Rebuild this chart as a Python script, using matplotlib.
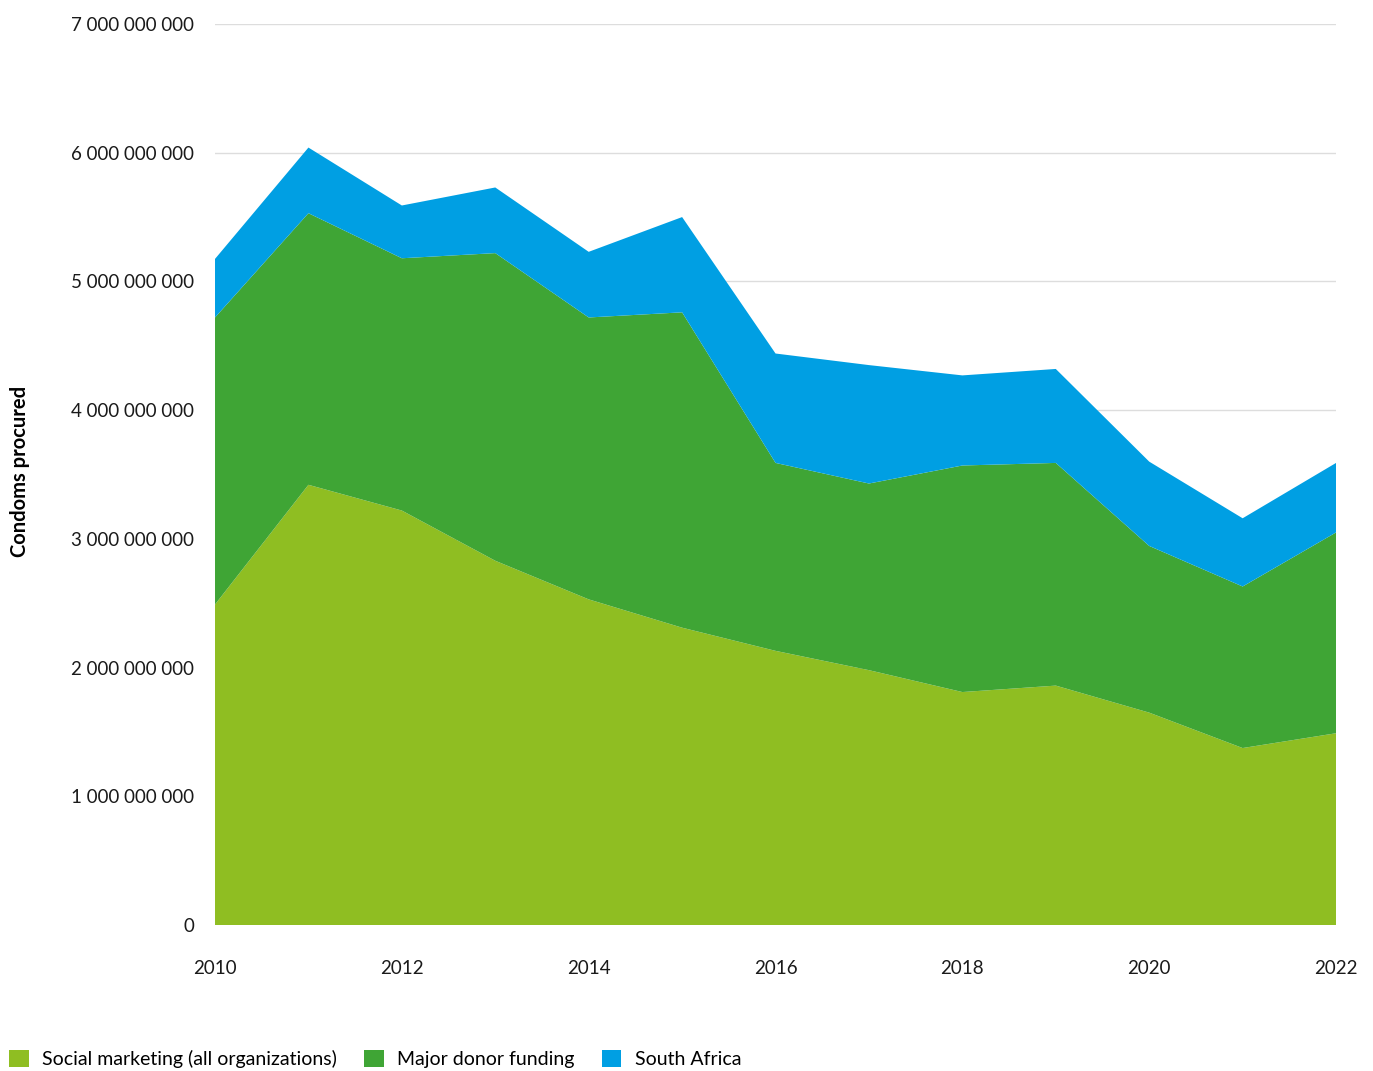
import numpy as np
import matplotlib.pyplot as plt
from matplotlib.patches import Patch
from matplotlib.ticker import FuncFormatter

plt.rcParams['font.family'] = ['Lato', 'DejaVu Sans']

# Data
years = [2010, 2011, 2012, 2013, 2014, 2015, 2016, 2017, 2018, 2019, 2020, 2021, 2022]
social_marketing = [2.49e9, 3.42e9, 3.22e9, 2.83e9, 2.53e9, 2.31e9, 2.13e9, 1.98e9, 1.81e9, 1.86e9, 1.65e9, 1.375e9, 1.49e9]
major_donor = [2.23e9, 2.11e9, 1.96e9, 2.39e9, 2.19e9, 2.45e9, 1.46e9, 1.45e9, 1.76e9, 1.73e9, 1.295e9, 1.255e9, 1.56e9]
south_africa = [0.455e9, 0.51e9, 0.41e9, 0.51e9, 0.51e9, 0.74e9, 0.85e9, 0.92e9, 0.70e9, 0.73e9, 0.655e9, 0.53e9, 0.54e9]

labels = ['Social marketing (all organizations)', 'Major donor funding', 'South Africa']
colors = ['#8fbe22', '#3fa535', '#009fe3']

fig = plt.figure(figsize=(13.73, 10.71), dpi=100)
ax = fig.add_axes([0.1566, 0.1363, 0.8165, 0.8413])

ax.stackplot(years, social_marketing, major_donor, south_africa, colors=colors, linewidth=0)

ax.set_xlim(2010, 2022)
ax.set_ylim(0, 7e9)
ax.set_xticks([2010, 2012, 2014, 2016, 2018, 2020, 2022])
ax.set_yticks(np.arange(0, 7.01e9, 1e9))
ax.yaxis.set_major_formatter(FuncFormatter(lambda v, p: f'{int(round(v)):,}'.replace(',', ' ')))

ax.grid(axis='y', color='#dddddd', linewidth=1)
ax.set_axisbelow(True)
for s in ax.spines.values():
    s.set_visible(False)
ax.tick_params(length=0, labelsize=13.5, colors='#1a1a1a')
ax.tick_params(axis='y', pad=15)
ax.tick_params(axis='x', pad=25)

fig.text(0.0145, 0.56, 'Condoms procured', rotation=90, fontsize=14.5, fontweight='bold',
         ha='center', va='center')

handles = [Patch(facecolor=c, label=l) for c, l in zip(colors, labels)]
fig.legend(handles=handles, loc='center left', bbox_to_anchor=(0.0066, 12 / 1071), ncol=3,
           frameon=False, fontsize=14, handlelength=1.0, handleheight=1.0,
           handletextpad=0.7, columnspacing=1.4, borderaxespad=0, borderpad=0)

fig.savefig('out.png', dpi=100)
